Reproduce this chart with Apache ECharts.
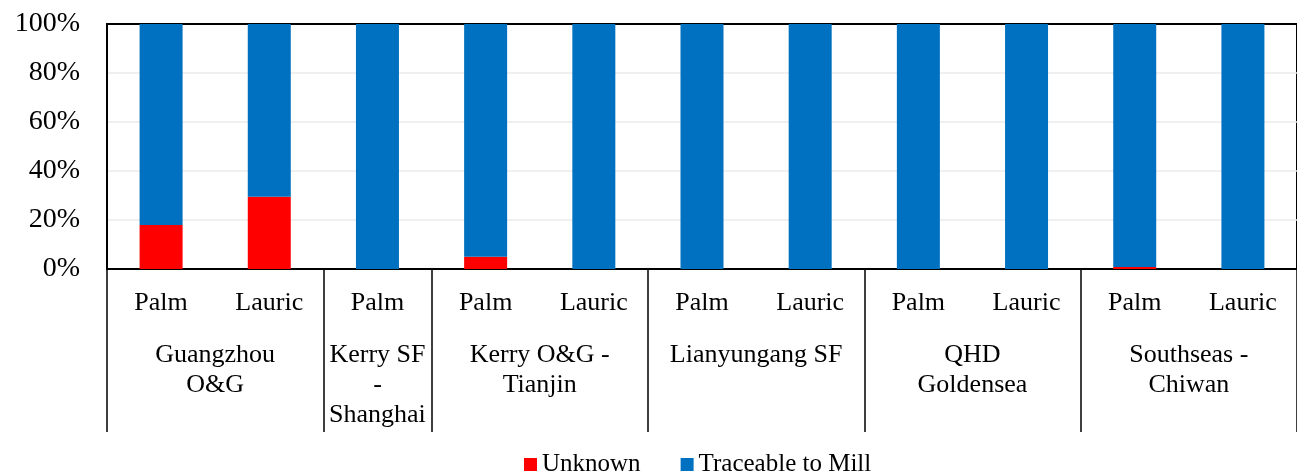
<!DOCTYPE html>
<html>
<head>
<meta charset="utf-8">
<script src="https://cdn.jsdelivr.net/npm/echarts@6/dist/echarts.min.js"></script>
<style>
  html, body { margin: 0; padding: 0; background: #fff; }
  #chart { width: 1297px; height: 473px; }
</style>
</head>
<body>
<div id="chart"></div>
<script>
var oilTypes = ['Palm', 'Lauric', 'Palm', 'Palm', 'Lauric', 'Palm', 'Lauric', 'Palm', 'Lauric', 'Palm', 'Lauric'];
var unknownData = [18, 29.5, 0, 5, 0, 0, 0, 0, 0, 0.8, 0];
var traceableData = [82, 70.5, 100, 95, 100, 100, 100, 100, 100, 99.2, 100];
var groupNames = ['Guangzhou\nO&G', 'Kerry SF\n-\nShanghai', 'Kerry O&G -\nTianjin', 'Lianyungang SF', 'QHD\nGoldensea', 'Southseas -\nChiwan'];
var groupCenters = [1, 2.5, 4, 6, 8, 10];
var groupBounds = [0, 2, 3, 5, 7, 9, 11];
var yTicks = [0, 20, 40, 60, 80, 100];

var font = 'Liberation Serif';
var chart = echarts.init(document.getElementById('chart'));

var option = {
    animation: false,
    grid: {
        left: 107,
        top: 24,
        width: 1199,
        height: 245,
        show: true,
        borderColor: '#000',
        borderWidth: 2
    },
    legend: {
        left: 519,
        top: 447,
        icon: 'rect',
        itemWidth: 13,
        itemHeight: 13,
        itemGap: 40,
        itemTextGap: 5,
        textStyle: { fontFamily: font, fontSize: 25, color: '#000' },
        data: ['Unknown', 'Traceable to Mill']
    },
    xAxis: [{
        type: 'category',
        data: oilTypes,
        axisLine: { lineStyle: { color: '#000', width: 2 } },
        axisTick: { show: false },
        axisLabel: {
            margin: 21,
            fontFamily: font,
            fontSize: 26,
            color: '#000',
            interval: 0
        }
    }, {
        type: 'value',
        position: 'bottom',
        min: 0,
        max: 11,
        axisLine: { show: false },
        splitLine: { show: false },
        axisTick: {
            show: true,
            length: 163,
            customValues: groupBounds,
            lineStyle: { color: '#000', width: 1.5 }
        },
        axisLabel: {
            customValues: groupCenters,
            margin: 71,
            fontFamily: font,
            fontSize: 26,
            lineHeight: 30,
            color: '#000',
            verticalAlign: 'top',
            formatter: function (v) {
                var i = groupCenters.indexOf(v);
                return i >= 0 ? groupNames[i] : '';
            }
        }
    }],
    yAxis: {
        type: 'value',
        min: yTicks[0],
        max: yTicks[yTicks.length - 1],
        interval: 20,
        axisLine: { show: true, lineStyle: { color: '#000', width: 2 } },
        axisTick: { show: false },
        splitLine: { showMaxLine: false, lineStyle: { color: '#ebebeb', width: 1.5 } },
        axisLabel: {
            margin: 27,
            fontFamily: font,
            fontSize: 28,
            color: '#000',
            formatter: '{value}%'
        }
    },
    series: [{
        name: 'Unknown',
        type: 'bar',
        stack: 'total',
        barWidth: 43,
        itemStyle: { color: '#ff0000' },
        data: unknownData
    }, {
        name: 'Traceable to Mill',
        type: 'bar',
        stack: 'total',
        barWidth: 43,
        itemStyle: { color: '#0070c0' },
        data: traceableData
    }]
};
chart.setOption(option);
</script>
</body>
</html>
